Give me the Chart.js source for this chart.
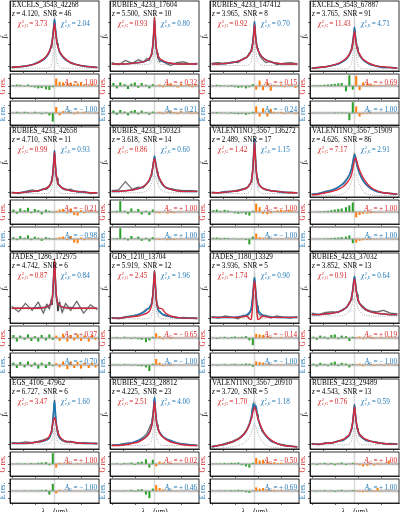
<!DOCTYPE html>
<html>
<head>
<meta charset="utf-8">
<script src="https://cdn.jsdelivr.net/npm/chart.js@4.4.1/dist/chart.umd.min.js"></script>
<style>
    html, body { margin: 0; padding: 0; background: #fff; }
    #fig { position: relative; width: 400px; height: 512px; overflow: hidden;
           font-family: "Liberation Serif", "Times New Roman", serif; }
    #fig canvas { position: absolute; }
    .t { position: absolute; white-space: nowrap; line-height: 1; font-size: 7.2px; color: #000; }
    .r { color: #d62728; }
    .b { color: #1f77b4; }
    .ss { display: inline-block; vertical-align: middle; font-size: 4.6px; line-height: 4.4px; margin: 0 1px 0 0.5px; }
    .ss span { display: block; }
    .rot { transform: translate(-50%, -50%) rotate(-90deg); }
    sub { font-size: 4.8px; vertical-align: -1px; line-height: 0; }
</style>
</head>
<body>
<div id="fig"></div>
<script>
(function() {
    'use strict';

    // Panel metadata (row by row)
    var NAMES = ['EXCELS_3543_42268', 'RUBIES_4233_17604', 'RUBIES_4233_147412', 'EXCELS_3543_67887',
                 'RUBIES_4233_42658', 'RUBIES_4233_150323', 'VALENTINO_3567_136272', 'VALENTINO_3567_51909',
                 'JADES_1286_172975', 'GDS_1210_13704', 'JADES_1180_13329', 'RUBIES_4233_37032',
                 'EGS_4106_47962', 'RUBIES_4233_28812', 'VALENTINO_3567_20910', 'RUBIES_4233_29489'];
    var REDSHIFT = ['4.120', '5.500', '3.965', '3.765', '4.710', '3.618', '2.489', '4.626',
                    '4.742', '5.919', '3.936', '3.852', '6.727', '4.225', '3.720', '4.543'];
    var SNR = [46, 10, 8, 91, 11, 14, 17, 86, 6, 12, 5, 13, 6, 23, 5, 13];
    var CHI_G = ['3.73', '0.93', '0.92', '11.43', '0.99', '0.86', '1.42', '7.17',
                 '0.87', '2.45', '1.74', '0.91', '3.47', '2.51', '1.70', '0.76'];
    var CHI_E = ['2.04', '0.80', '0.70', '4.71', '0.93', '0.60', '1.15', '2.91',
                 '0.84', '1.96', '0.90', '0.64', '1.60', '4.00', '1.18', '0.59'];
    var AMP_G = [-1.00, 0.32, 0.15, 0.69, -0.21, 1.00, -1.00, 1.00, 0.37, -0.65, -0.14, 0.19, 1.00, 0.02, -0.50, 1.00];
    var AMP_E = [-1.00, 0.21, -0.24, 1.00, -0.98, 1.00, -1.00, 1.00, 0.70, -1.00, -1.00, -1.00, -1.00, 0.46, 0.69, 1.00];

    // Wavelength grid (fraction of the window, line centre at 0.5)
    var SPEC_X = [0, 0.08, 0.16, 0.24, 0.31, 0.37, 0.41, 0.44, 0.46, 0.47, 0.48, 0.49, 0.50,
                  0.51, 0.52, 0.53, 0.54, 0.56, 0.59, 0.63, 0.69, 0.76, 0.84, 0.92, 1.0];
    var RES_X = [0.02, 0.06, 0.10, 0.15, 0.19, 0.23, 0.27, 0.31, 0.35, 0.40, 0.44, 0.48,
                 0.52, 0.56, 0.60, 0.65, 0.69, 0.73, 0.77, 0.81, 0.85, 0.90, 0.94, 0.98];
    var X_TICKS = [0.14, 0.41, 0.68, 0.95];
    var MAIN_TICKS = [0.06, 0.38, 0.70];
    var RES_TICKS = [-0.6, 0, 0.6];

    // Observed flux (normalised to the main panel height)
    var FLUX = [
        [0.06,0.06,0.07,0.09,0.13,0.17,0.21,0.28,0.34,0.42,0.49,0.63,0.73,0.61,0.51,0.40,0.36,0.27,0.22,0.17,0.11,0.09,0.07,0.06,0.05],
        [0.12,0.09,0.15,0.11,0.16,0.13,0.18,0.15,0.23,0.29,0.38,0.56,0.77,0.50,0.33,0.26,0.19,0.13,0.16,0.11,0.08,0.12,0.13,0.10,0.11],
        [0.11,0.12,0.10,0.13,0.12,0.18,0.19,0.26,0.28,0.36,0.40,0.55,0.71,0.53,0.43,0.33,0.31,0.22,0.17,0.12,0.14,0.09,0.11,0.12,0.10],
        [0.04,0.05,0.06,0.08,0.10,0.14,0.18,0.24,0.30,0.35,0.42,0.52,0.62,0.50,0.41,0.34,0.28,0.22,0.17,0.13,0.09,0.07,0.05,0.05,0.04],
        [0.07,0.05,0.08,0.10,0.08,0.12,0.11,0.15,0.22,0.24,0.34,0.50,0.67,0.45,0.30,0.27,0.18,0.17,0.12,0.10,0.11,0.07,0.08,0.05,0.06],
        [0.09,0.10,0.22,0.11,0.14,0.13,0.20,0.23,0.31,0.37,0.43,0.52,0.58,0.50,0.45,0.36,0.30,0.26,0.20,0.13,0.12,0.10,0.09,0.09,0.08],
        [0.07,0.06,0.08,0.08,0.10,0.12,0.13,0.18,0.21,0.30,0.40,0.62,0.84,0.58,0.37,0.27,0.21,0.16,0.13,0.10,0.09,0.08,0.06,0.07,0.06],
        [0.04,0.05,0.08,0.10,0.14,0.20,0.26,0.32,0.39,0.44,0.50,0.57,0.62,0.58,0.50,0.44,0.40,0.33,0.25,0.18,0.12,0.08,0.06,0.05,0.04],
        [0.24,0.16,0.28,0.18,0.30,0.14,0.27,0.20,0.33,0.26,0.45,0.70,0.92,0.60,0.38,0.29,0.17,0.30,0.15,0.28,0.18,0.31,0.14,0.26,0.19],
        [0.08,0.06,0.09,0.10,0.12,0.16,0.20,0.21,0.27,0.33,0.40,0.58,0.75,0.52,0.35,0.25,0.19,0.17,0.12,0.10,0.09,0.07,0.08,0.07,0.06],
        [0.09,0.07,0.10,0.08,0.06,0.11,0.09,0.13,0.19,0.27,0.40,0.55,0.65,0.50,0.36,0.25,0.15,0.12,0.09,0.11,0.07,0.10,0.08,0.07,0.09],
        [0.14,0.12,0.15,0.16,0.15,0.20,0.22,0.30,0.33,0.41,0.47,0.60,0.67,0.57,0.46,0.41,0.32,0.27,0.25,0.20,0.17,0.16,0.18,0.14,0.13],
        [0.09,0.08,0.10,0.09,0.11,0.13,0.15,0.17,0.24,0.30,0.40,0.56,0.70,0.50,0.36,0.27,0.20,0.15,0.12,0.10,0.11,0.08,0.09,0.08,0.07],
        [0.06,0.06,0.08,0.09,0.12,0.17,0.22,0.30,0.36,0.42,0.48,0.60,0.72,0.55,0.42,0.35,0.28,0.22,0.18,0.14,0.11,0.08,0.07,0.06,0.05],
        [0.04,0.05,0.08,0.11,0.15,0.21,0.28,0.36,0.45,0.53,0.61,0.66,0.57,0.63,0.58,0.50,0.43,0.35,0.25,0.20,0.11,0.08,0.06,0.04,0.03],
        [0.08,0.06,0.09,0.08,0.12,0.12,0.18,0.19,0.28,0.30,0.40,0.52,0.64,0.49,0.40,0.30,0.25,0.21,0.18,0.12,0.11,0.10,0.07,0.08,0.07]
    ];

    // Gaussian-wing model (red)
    var GAUSS_FIT = [
        [0.05,0.06,0.07,0.09,0.12,0.17,0.22,0.28,0.35,0.40,0.47,0.58,0.68,0.58,0.47,0.40,0.35,0.28,0.22,0.17,0.12,0.09,0.07,0.06,0.05],
        [0.10,0.10,0.10,0.11,0.12,0.13,0.15,0.18,0.22,0.27,0.35,0.52,0.76,0.52,0.35,0.27,0.22,0.18,0.15,0.13,0.11,0.10,0.10,0.10,0.10],
        [0.10,0.10,0.11,0.12,0.14,0.17,0.20,0.24,0.29,0.33,0.39,0.50,0.66,0.52,0.40,0.34,0.30,0.25,0.20,0.16,0.13,0.11,0.10,0.10,0.10],
        [0.04,0.05,0.06,0.08,0.11,0.15,0.19,0.24,0.29,0.33,0.39,0.48,0.57,0.48,0.39,0.33,0.29,0.24,0.18,0.14,0.10,0.07,0.06,0.05,0.04],
        [0.06,0.06,0.07,0.08,0.09,0.11,0.13,0.16,0.20,0.25,0.32,0.46,0.64,0.46,0.32,0.25,0.20,0.16,0.13,0.11,0.09,0.08,0.07,0.06,0.06],
        [0.08,0.08,0.09,0.10,0.12,0.15,0.19,0.25,0.31,0.36,0.42,0.50,0.55,0.50,0.43,0.38,0.33,0.26,0.19,0.14,0.11,0.09,0.08,0.08,0.08],
        [0.06,0.06,0.07,0.08,0.09,0.11,0.13,0.17,0.22,0.28,0.38,0.57,0.78,0.57,0.38,0.28,0.22,0.17,0.13,0.11,0.09,0.08,0.07,0.06,0.06],
        [0.03,0.04,0.06,0.08,0.11,0.15,0.20,0.25,0.30,0.34,0.40,0.47,0.53,0.56,0.54,0.50,0.45,0.38,0.30,0.22,0.14,0.09,0.06,0.05,0.04],
        [0.21,0.21,0.21,0.21,0.21,0.22,0.23,0.25,0.28,0.32,0.42,0.65,0.90,0.65,0.42,0.32,0.28,0.25,0.23,0.22,0.21,0.21,0.21,0.21,0.21],
        [0.07,0.07,0.08,0.09,0.10,0.12,0.14,0.17,0.22,0.28,0.38,0.56,0.74,0.56,0.36,0.26,0.22,0.21,0.20,0.14,0.10,0.08,0.07,0.07,0.07],
        [0.08,0.08,0.08,0.08,0.08,0.09,0.10,0.06,0.05,0.12,0.30,0.50,0.60,0.50,0.30,0.12,0.05,0.06,0.10,0.09,0.08,0.08,0.08,0.08,0.08],
        [0.12,0.12,0.13,0.14,0.16,0.19,0.23,0.28,0.34,0.39,0.46,0.56,0.63,0.56,0.46,0.39,0.34,0.28,0.23,0.19,0.16,0.14,0.13,0.12,0.12],
        [0.08,0.08,0.08,0.09,0.10,0.12,0.14,0.18,0.24,0.29,0.36,0.42,0.45,0.42,0.36,0.29,0.24,0.18,0.14,0.11,0.10,0.09,0.08,0.08,0.08],
        [0.05,0.05,0.06,0.08,0.10,0.14,0.18,0.23,0.30,0.35,0.42,0.55,0.68,0.55,0.42,0.35,0.30,0.23,0.18,0.14,0.10,0.08,0.06,0.05,0.05],
        [0.03,0.05,0.07,0.10,0.14,0.20,0.27,0.35,0.42,0.47,0.52,0.57,0.60,0.58,0.54,0.49,0.44,0.37,0.28,0.20,0.13,0.08,0.05,0.04,0.03],
        [0.07,0.07,0.08,0.09,0.11,0.14,0.17,0.21,0.27,0.32,0.39,0.50,0.60,0.50,0.39,0.32,0.27,0.21,0.17,0.14,0.11,0.09,0.08,0.07,0.07]
    ];

    // Exponential-wing model (blue)
    var EXP_FIT = [
        [0.05,0.06,0.07,0.09,0.12,0.16,0.21,0.27,0.35,0.41,0.50,0.62,0.74,0.62,0.50,0.41,0.35,0.27,0.21,0.16,0.12,0.09,0.07,0.06,0.05],
        [0.10,0.10,0.10,0.11,0.12,0.13,0.15,0.18,0.22,0.27,0.34,0.50,0.73,0.50,0.34,0.27,0.22,0.17,0.14,0.12,0.11,0.10,0.10,0.10,0.10],
        [0.10,0.10,0.11,0.12,0.14,0.17,0.20,0.24,0.29,0.34,0.41,0.53,0.70,0.54,0.42,0.35,0.30,0.25,0.20,0.16,0.13,0.11,0.10,0.10,0.10],
        [0.04,0.05,0.06,0.08,0.10,0.14,0.18,0.23,0.29,0.34,0.41,0.51,0.62,0.51,0.41,0.34,0.29,0.23,0.17,0.13,0.09,0.07,0.05,0.05,0.04],
        [0.06,0.06,0.07,0.08,0.09,0.11,0.13,0.16,0.20,0.25,0.33,0.48,0.66,0.47,0.32,0.25,0.20,0.16,0.13,0.11,0.09,0.08,0.07,0.06,0.06],
        [0.08,0.08,0.09,0.10,0.12,0.15,0.19,0.24,0.30,0.35,0.42,0.51,0.58,0.52,0.44,0.38,0.32,0.25,0.18,0.14,0.11,0.09,0.08,0.08,0.08],
        [0.06,0.06,0.07,0.08,0.09,0.11,0.13,0.17,0.22,0.28,0.39,0.60,0.83,0.60,0.39,0.28,0.22,0.17,0.13,0.11,0.09,0.08,0.07,0.06,0.06],
        [0.04,0.05,0.07,0.10,0.14,0.19,0.25,0.31,0.38,0.43,0.48,0.55,0.60,0.58,0.52,0.46,0.41,0.34,0.26,0.19,0.12,0.08,0.06,0.05,0.04],
        [0.21,0.21,0.21,0.21,0.22,0.22,0.23,0.25,0.28,0.32,0.41,0.62,0.87,0.62,0.41,0.32,0.28,0.25,0.23,0.22,0.22,0.21,0.21,0.21,0.21],
        [0.07,0.07,0.08,0.10,0.12,0.15,0.19,0.22,0.26,0.30,0.38,0.55,0.74,0.55,0.36,0.26,0.20,0.16,0.13,0.11,0.09,0.08,0.07,0.07,0.07],
        [0.08,0.08,0.08,0.08,0.09,0.10,0.12,0.15,0.20,0.28,0.38,0.53,0.65,0.53,0.38,0.28,0.20,0.15,0.12,0.10,0.09,0.08,0.08,0.08,0.08],
        [0.12,0.12,0.13,0.14,0.16,0.19,0.23,0.28,0.34,0.40,0.48,0.58,0.66,0.58,0.48,0.40,0.34,0.28,0.23,0.19,0.16,0.14,0.13,0.12,0.12],
        [0.08,0.08,0.08,0.09,0.10,0.11,0.13,0.16,0.22,0.28,0.38,0.53,0.68,0.53,0.38,0.28,0.22,0.16,0.13,0.11,0.10,0.09,0.08,0.08,0.08],
        [0.05,0.06,0.07,0.09,0.12,0.15,0.19,0.24,0.30,0.36,0.44,0.58,0.74,0.58,0.44,0.36,0.30,0.24,0.19,0.15,0.12,0.09,0.07,0.06,0.05],
        [0.03,0.05,0.07,0.10,0.14,0.20,0.27,0.35,0.44,0.52,0.60,0.65,0.58,0.62,0.60,0.52,0.45,0.36,0.27,0.19,0.12,0.08,0.05,0.04,0.03],
        [0.07,0.07,0.08,0.09,0.11,0.13,0.16,0.20,0.26,0.31,0.39,0.51,0.63,0.51,0.39,0.31,0.26,0.20,0.16,0.13,0.11,0.09,0.08,0.07,0.07]
    ];

    // Narrow / broad single components (dotted grey)
    var COMPONENT = [
        [0.04,0.04,0.04,0.04,0.04,0.04,0.04,0.05,0.08,0.12,0.20,0.36,0.48,0.36,0.20,0.12,0.08,0.05,0.04,0.04,0.04,0.04,0.04,0.04,0.04],
        [0.09,0.09,0.09,0.09,0.09,0.09,0.09,0.10,0.12,0.15,0.19,0.25,0.30,0.25,0.19,0.15,0.12,0.10,0.09,0.09,0.09,0.09,0.09,0.09,0.09],
        [0.08,0.08,0.08,0.08,0.08,0.08,0.08,0.10,0.13,0.18,0.25,0.35,0.42,0.35,0.25,0.18,0.13,0.10,0.08,0.08,0.08,0.08,0.08,0.08,0.08],
        [0.03,0.03,0.03,0.03,0.03,0.03,0.03,0.05,0.09,0.14,0.24,0.40,0.52,0.40,0.24,0.14,0.09,0.05,0.03,0.03,0.03,0.03,0.03,0.03,0.03],
        [0.05,0.05,0.05,0.05,0.05,0.05,0.05,0.06,0.09,0.13,0.20,0.30,0.38,0.30,0.20,0.13,0.09,0.06,0.05,0.05,0.05,0.05,0.05,0.05,0.05],
        [0.06,0.06,0.06,0.06,0.06,0.07,0.09,0.13,0.18,0.22,0.26,0.30,0.32,0.30,0.26,0.22,0.18,0.13,0.09,0.07,0.06,0.06,0.06,0.06,0.06],
        [0.05,0.05,0.05,0.05,0.05,0.05,0.05,0.07,0.10,0.16,0.27,0.44,0.55,0.44,0.27,0.16,0.10,0.07,0.05,0.05,0.05,0.05,0.05,0.05,0.05],
        [0.02,0.02,0.02,0.02,0.03,0.05,0.09,0.14,0.20,0.24,0.28,0.31,0.33,0.33,0.31,0.28,0.24,0.18,0.10,0.05,0.03,0.02,0.02,0.02,0.02],
        [0.20,0.20,0.20,0.20,0.20,0.20,0.20,0.21,0.23,0.27,0.33,0.46,0.55,0.46,0.33,0.27,0.23,0.21,0.20,0.20,0.20,0.20,0.20,0.20,0.20],
        [0.06,0.06,0.06,0.06,0.06,0.06,0.06,0.07,0.09,0.13,0.19,0.28,0.35,0.28,0.19,0.13,0.09,0.07,0.06,0.06,0.06,0.06,0.06,0.06,0.06],
        [0.07,0.07,0.07,0.07,0.07,0.07,0.07,0.08,0.10,0.14,0.21,0.32,0.40,0.32,0.21,0.14,0.10,0.08,0.07,0.07,0.07,0.07,0.07,0.07,0.07],
        [0.10,0.10,0.10,0.10,0.10,0.11,0.13,0.17,0.22,0.26,0.30,0.34,0.36,0.34,0.30,0.26,0.22,0.17,0.13,0.11,0.10,0.10,0.10,0.10,0.10],
        [0.07,0.07,0.07,0.07,0.07,0.07,0.07,0.08,0.10,0.13,0.18,0.25,0.30,0.25,0.18,0.13,0.10,0.08,0.07,0.07,0.07,0.07,0.07,0.07,0.07],
        [0.05,0.05,0.05,0.05,0.05,0.05,0.05,0.07,0.10,0.15,0.23,0.34,0.42,0.34,0.23,0.15,0.10,0.07,0.05,0.05,0.05,0.05,0.05,0.05,0.05],
        [0.01,0.01,0.02,0.03,0.05,0.08,0.12,0.17,0.22,0.26,0.30,0.34,0.36,0.34,0.30,0.26,0.22,0.17,0.11,0.06,0.03,0.02,0.01,0.01,0.01],
        [0.06,0.06,0.06,0.06,0.06,0.06,0.06,0.07,0.10,0.14,0.20,0.26,0.30,0.26,0.20,0.14,0.10,0.07,0.06,0.06,0.06,0.06,0.06,0.06,0.06]
    ];

    // Residuals of the Gaussian model (fraction of the residual panel half-height)
    var G_RES = [
        [0.08,0.12,0.10,-0.05,0.12,-0.08,-0.12,-0.20,-0.18,-0.28,-0.32,-0.10,0.62,0.35,0.30,0.22,0.28,0.15,0.22,0.30,0.15,0.10,0.20,0.06],
        [0.25,-0.20,0.30,0.15,-0.25,0.20,0.30,-0.15,0.25,0.10,-0.20,0.15,0.05,0.12,-0.10,0.15,0.20,0.10,-0.12,0.18,0.05,0.15,-0.10,0.10],
        [0.05,0.10,0.08,0.05,-0.05,0.08,-0.10,-0.15,-0.12,-0.20,-0.10,0.15,-0.30,0.45,-0.35,0.25,-0.40,0.10,0.05,0.12,-0.10,0.08,0.05,-0.15],
        [0.05,0.06,0.08,0.10,0.12,0.15,0.18,0.22,0.25,-0.45,0.90,-0.30,0.85,-0.35,0.30,0.20,0.15,0.10,0.08,0.06,0.05,0.05,0.04,0.03],
        [0.20,-0.15,0.30,0.15,0.35,-0.10,0.25,0.15,-0.20,0.20,0.10,-0.05,0.10,0.20,0.25,-0.10,0.30,-0.25,-0.30,0.15,-0.10,0.10,0.05,0.08],
        [0.05,0.10,0.90,0.10,-0.15,0.30,0.05,0.25,-0.20,0.10,-0.25,0.20,-0.08,-0.10,-0.05,-0.12,-0.08,-0.10,0.05,-0.06,0.04,-0.05,0.03,0.02],
        [0.15,0.20,0.10,0.18,0.12,0.05,-0.10,-0.15,-0.10,-0.20,-0.30,0.10,0.70,0.40,-0.15,-0.20,-0.10,0.05,0.15,0.20,0.12,0.18,0.10,0.05],
        [0.02,0.04,0.06,0.08,0.10,0.15,0.20,0.25,0.30,0.40,0.55,0.80,-0.45,-0.25,-0.15,-0.12,-0.10,-0.08,-0.06,-0.05,-0.04,-0.03,-0.02,-0.02],
        [0.25,-0.30,0.20,-0.15,0.30,-0.25,0.15,-0.30,0.25,-0.20,0.30,-0.15,0.20,-0.25,0.35,-0.30,0.25,-0.20,0.30,-0.25,0.20,-0.30,0.25,-0.15],
        [0.05,0.08,-0.05,0.10,0.05,-0.08,0.06,-0.10,-0.15,-0.35,-0.20,0.10,0.40,0.15,-0.10,0.05,-0.08,0.06,0.04,-0.05,0.05,0.03,-0.04,0.03],
        [0.05,-0.08,0.06,0.10,-0.05,0.08,0.12,0.05,0.10,0.15,-0.20,-0.60,0.35,0.30,0.25,0.15,0.08,-0.05,0.06,0.08,-0.04,0.05,0.03,-0.03],
        [0.10,-0.15,0.20,0.12,-0.10,0.25,0.30,-0.10,0.20,0.15,-0.25,0.10,0.08,0.12,-0.10,0.06,0.10,-0.08,0.05,0.08,-0.06,0.10,0.05,-0.05],
        [0.03,0.05,0.04,0.06,0.03,0.08,0.05,0.10,0.12,0.15,-0.10,0.90,-0.30,0.10,0.05,0.08,0.04,-0.05,0.06,0.03,0.05,-0.03,0.04,0.02],
        [0.03,0.06,-0.05,0.08,0.05,0.12,-0.08,0.15,0.20,0.40,-0.30,0.35,-0.20,0.20,0.10,-0.05,0.08,0.05,0.06,-0.04,0.05,0.03,-0.03,0.02],
        [0.05,0.04,0.06,0.08,0.05,0.10,0.08,0.12,-0.10,-0.20,-0.30,0.10,0.50,0.30,0.35,0.20,0.10,0.15,0.08,0.10,0.05,0.06,0.04,0.03],
        [0.05,-0.08,0.06,0.10,-0.05,0.08,-0.10,0.06,0.12,-0.08,0.05,0.10,0.06,-0.10,-0.20,-0.15,0.08,-0.12,0.10,-0.06,0.05,0.30,-0.05,0.04]
    ];

    // Residuals of the exponential model
    var E_RES = [
        [0.04,0.10,0.05,0.10,0.06,-0.04,0.10,0.05,-0.10,0.06,-0.20,-0.72,0.50,-0.20,0.15,0.10,0.06,-0.10,0.12,0.05,0.10,0.05,0.02,0.05],
        [0.20,-0.15,0.25,0.12,-0.20,0.18,0.25,-0.12,0.20,0.08,-0.15,0.12,0.04,0.10,-0.08,0.12,0.15,0.08,-0.10,0.15,0.04,0.12,-0.08,0.08],
        [0.05,0.08,0.05,0.04,-0.04,0.06,-0.08,-0.10,-0.08,-0.15,-0.08,0.10,0.55,-0.30,0.40,-0.30,0.35,0.10,0.05,0.10,-0.08,0.06,0.05,-0.10],
        [0.02,0.02,0.03,0.03,0.04,0.03,0.05,0.04,0.06,0.05,-0.60,0.90,0.55,-0.30,-0.10,-0.08,-0.06,-0.05,-0.04,-0.03,-0.03,-0.02,-0.02,-0.02],
        [0.15,-0.10,0.25,0.10,0.30,-0.10,0.20,0.10,-0.15,0.15,0.08,-0.05,0.08,0.15,0.20,-0.10,0.25,-0.30,-0.35,0.12,-0.10,0.08,0.05,0.06],
        [0.05,0.08,0.90,0.10,-0.12,0.25,0.05,0.20,-0.15,0.10,-0.20,0.15,-0.06,-0.08,-0.05,-0.10,-0.06,-0.08,0.04,-0.05,0.03,-0.04,0.03,0.02],
        [0.10,0.12,0.08,0.10,0.08,0.04,0.05,-0.05,0.04,-0.08,-0.45,0.20,0.45,0.15,0.10,0.08,0.05,0.04,0.06,0.05,0.04,0.05,0.03,0.04],
        [0.02,0.03,0.04,0.05,0.06,0.08,0.10,0.12,0.15,0.20,0.30,-0.35,-0.30,-0.15,-0.10,-0.08,-0.06,-0.05,-0.04,-0.03,-0.02,-0.02,-0.01,-0.01],
        [0.20,-0.25,0.25,-0.20,0.30,-0.15,0.20,-0.30,0.20,-0.25,0.25,-0.10,0.15,-0.20,0.30,-0.35,0.30,-0.25,0.25,-0.30,0.20,-0.25,0.20,-0.20],
        [0.05,0.06,-0.05,0.08,0.05,-0.06,0.05,-0.08,-0.10,-0.20,-0.50,0.10,0.50,0.20,-0.10,0.05,-0.06,0.05,0.03,-0.04,0.04,0.03,-0.03,0.02],
        [0.04,-0.06,0.05,0.08,-0.04,0.06,0.10,0.04,0.08,0.12,0.10,-0.15,0.30,0.25,0.20,0.10,0.06,-0.04,0.05,0.06,-0.03,0.04,0.03,-0.02],
        [0.10,-0.12,0.18,0.10,-0.10,0.20,0.28,-0.10,0.18,0.12,-0.20,0.08,0.06,0.10,-0.10,0.05,0.08,-0.08,0.05,0.06,-0.06,0.08,0.04,-0.05],
        [0.02,0.04,0.03,0.05,0.02,0.06,0.04,0.06,0.08,0.10,-0.30,0.60,-0.20,0.10,0.04,0.06,0.03,-0.04,0.05,0.02,0.04,-0.02,0.03,0.02],
        [0.02,0.05,-0.04,0.06,0.04,0.10,-0.06,0.12,0.15,-0.30,-0.60,0.20,0.50,0.25,0.12,0.05,0.06,0.04,0.05,-0.03,0.04,0.03,-0.02,0.02],
        [0.04,0.03,0.05,0.06,0.04,0.08,0.06,0.10,0.08,-0.10,-0.15,0.05,0.30,0.20,0.25,0.12,0.08,0.10,0.06,0.08,0.04,0.05,0.03,0.02],
        [0.04,-0.06,0.05,0.08,-0.04,0.06,-0.08,0.05,0.10,-0.06,0.04,0.08,0.05,-0.08,-0.10,-0.08,0.06,-0.08,0.25,-0.05,0.04,0.06,-0.04,0.03]
    ];

    var RED = '#d62839';
    var BLUE = '#1f77b4';
    var GREEN = '#2ca02c';
    var ORANGE = '#ff7f0e';

    var COL_X = [10, 110, 210, 310];
    var ROW_Y = [1, 127, 253, 379];
    var PLOT_W = 89;
    var MAIN_H = 70;
    var RES_H = 24;

    var fig = document.getElementById('fig');

    /**
     * Fundo: faixa de erro, linha central e linha de zero; moldura completa por cima
     */
    var framePlugin = {
        id: 'frame',
        beforeDatasetsDraw: function(chart, args, o) {
            var ctx = chart.ctx, a = chart.chartArea, sx = chart.scales.x, sy = chart.scales.y;
            ctx.save();
            if (o.band) {
                var y1 = sy.getPixelForValue(o.band), y2 = sy.getPixelForValue(-o.band);
                ctx.fillStyle = 'rgba(0,0,0,0.06)';
                ctx.fillRect(a.left, y1, a.right - a.left, y2 - y1);
            }
            var xc = sx.getPixelForValue(0.5);
            ctx.strokeStyle = '#d8d8d8';
            ctx.lineWidth = 1.5;
            ctx.beginPath();
            ctx.moveTo(xc, a.top);
            ctx.lineTo(xc, a.bottom);
            ctx.stroke();
            if (o.zero) {
                var y0 = sy.getPixelForValue(0);
                ctx.strokeStyle = '#777';
                ctx.lineWidth = 0.8;
                ctx.beginPath();
                ctx.moveTo(a.left, y0);
                ctx.lineTo(a.right, y0);
                ctx.stroke();
            }
            ctx.restore();
        },
        afterDraw: function(chart) {
            var ctx = chart.ctx, a = chart.chartArea;
            ctx.save();
            ctx.strokeStyle = '#000';
            ctx.lineWidth = 0.8;
            ctx.strokeRect(a.left, a.top, a.right - a.left, a.bottom - a.top);
            ctx.restore();
        }
    };

    function addCanvas(x, y, w, h) {
        var c = document.createElement('canvas');
        c.width = w + 3;
        c.height = h + 3;
        c.style.left = (x - 2) + 'px';
        c.style.top = (y - 1) + 'px';
        fig.appendChild(c);
        return c;
    }

    function addText(html, x, y, cls, extra) {
        var d = document.createElement('div');
        d.className = 't' + (cls ? ' ' + cls : '');
        d.innerHTML = html;
        d.style.left = x + 'px';
        d.style.top = y + 'px';
        if (extra) {
            for (var k in extra) d.style[k] = extra[k];
        }
        fig.appendChild(d);
        return d;
    }

    function scaleOpts(min, max, ticks) {
        var axis = {
            border: { color: '#000', width: 0.8 },
            grid: { drawOnChartArea: false, drawTicks: true, tickLength: 2, color: '#000', lineWidth: 0.6 },
            ticks: { display: false }
        };
        var x = Object.assign({ type: 'linear', min: -0.02, max: 1.02, offset: false,
            afterBuildTicks: function(s) { s.ticks = X_TICKS.map(function(v) { return { value: v }; }); }
        }, JSON.parse(JSON.stringify(axis)));
        var y = Object.assign({ type: 'linear', min: min, max: max,
            afterBuildTicks: function(s) { s.ticks = ticks.map(function(v) { return { value: v }; }); }
        }, JSON.parse(JSON.stringify(axis)));
        return { x: x, y: y };
    }

    function pts(xs, ys) {
        return xs.map(function(x, i) { return { x: x, y: ys[i] }; });
    }

    function baseOptions(scales, frame) {
        return {
            responsive: false,
            animation: false,
            devicePixelRatio: 1,
            layout: { padding: { top: 1, right: 1, left: 0, bottom: 0 } },
            plugins: { legend: { display: false }, tooltip: { enabled: false }, frame: frame },
            scales: scales
        };
    }

    function lineSet(data, color, width, extra) {
        return Object.assign({
            data: data, borderColor: color, borderWidth: width,
            pointRadius: 0, fill: false, cubicInterpolationMode: 'monotone'
        }, extra || {});
    }

    function fmtAmp(v) {
        return (v >= 0 ? '+\u2009' : '\u2212\u2009') + Math.abs(v).toFixed(2);
    }

    function initMain(p, x, y) {
        var canvas = addCanvas(x, y, PLOT_W, MAIN_H);
        new Chart(canvas.getContext('2d'), {
            type: 'line',
            data: {
                datasets: [
                    lineSet(pts(SPEC_X, GAUSS_FIT[p]), RED, 1.4),
                    lineSet(pts(SPEC_X, EXP_FIT[p]), BLUE, 1.6),
                    lineSet(pts(SPEC_X, FLUX[p]), '#2a2a2a', 0.7, { cubicInterpolationMode: 'default', tension: 0 }),
                    lineSet(pts(SPEC_X, FLUX[p]), '#c8c8c8', 1.8, { cubicInterpolationMode: 'default', tension: 0 }),
                    lineSet(pts(SPEC_X, COMPONENT[p]), '#9a9a9a', 0.8, { borderDash: [1, 1.3] })
                ]
            },
            options: baseOptions(scaleOpts(0, 1, MAIN_TICKS), { zero: false })
        });
    }

    function initResidual(p, values, x, y) {
        var canvas = addCanvas(x, y, PLOT_W, RES_H);
        var colors = RES_X.map(function(v) { return v < 0.5 ? GREEN : ORANGE; });
        new Chart(canvas.getContext('2d'), {
            type: 'bar',
            data: {
                datasets: [{
                    data: pts(RES_X, values),
                    backgroundColor: colors,
                    borderWidth: 0,
                    barPercentage: 0.6,
                    categoryPercentage: 1
                }]
            },
            options: baseOptions(scaleOpts(-1, 1, RES_TICKS), { zero: true, band: 0.18 })
        });
    }

    Chart.register(framePlugin);

    for (var p = 0; p < 16; p++) {
        var col = p % 4, row = Math.floor(p / 4);
        var x0 = COL_X[col], y0 = ROW_Y[row];
        var gTop = y0 + MAIN_H + 3, eTop = gTop + RES_H + 3;

        initMain(p, x0, y0);
        initResidual(p, G_RES[p], x0, gTop);
        initResidual(p, E_RES[p], x0, eTop);

        addText(NAMES[p], x0 + 2, y0 + 1);
        addText('<i>z</i>\u2009=\u2009' + REDSHIFT[p] + ',\u2002SNR\u2009=\u2009' + SNR[p], x0 + 2, y0 + 10);
        addText('<i>\u03c7</i><span class="ss"><span>2</span><span>\u03bd,G</span></span>=\u2009' + CHI_G[p], x0 + 8, y0 + 19, 'r');
        addText('<i>\u03c7</i><span class="ss"><span>2</span><span>\u03bd,E</span></span>=\u2009' + CHI_E[p], x0 + 51, y0 + 19, 'b');
        addText('<i>A</i><sub>G</sub>\u2009=\u2009' + fmtAmp(AMP_G[p]), 0, gTop + 6, 'r',
                { left: 'auto', right: (400 - x0 - PLOT_W + 2) + 'px' });
        addText('<i>A</i><sub>E</sub>\u2009=\u2009' + fmtAmp(AMP_E[p]), 0, eTop + 6, 'b',
                { left: 'auto', right: (400 - x0 - PLOT_W + 2) + 'px' });

        addText('<i>f</i><sub>\u03bb</sub>', x0 - 5, y0 + MAIN_H / 2, 'rot');
        addText('G res.', x0 - 6, gTop + RES_H / 2, 'r rot');
        addText('E res.', x0 - 6, eTop + RES_H / 2, 'b rot');

        if (row === 3) {
            addText('<i>\u03bb</i><sub>rest</sub> (\u03bcm)', x0 + PLOT_W / 2, eTop + RES_H + 6, '',
                    { transform: 'translateX(-50%)' });
        }
    }
})();
</script>
</body>
</html>
